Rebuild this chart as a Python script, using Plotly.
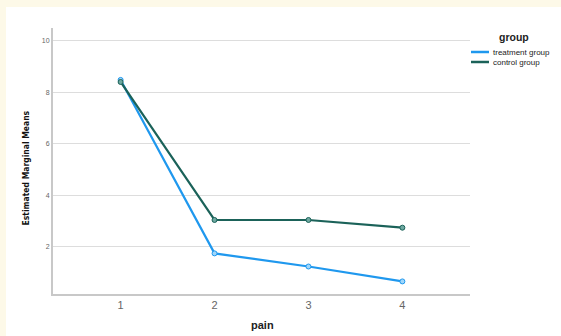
import plotly.graph_objects as go

pain = [1, 2, 3, 4]
treatment = [8.48, 1.73, 1.22, 0.64]
control = [8.40, 3.03, 3.03, 2.73]
y_ticks = [2, 4, 6, 8, 10]
series_names = ["treatment group", "control group"]
series_colors = ["#1f98ee", "#1b6259"]
marker_fills = ["#9fd6fb", "#6ea8a0"]
series_values = [treatment, control]

fig = go.Figure()
for name, vals, col, fill in zip(series_names, series_values, series_colors, marker_fills):
    fig.add_trace(go.Scatter(
        x=pain, y=vals, name=name, mode="lines+markers", showlegend=False,
        line=dict(color=col, width=2.2),
        marker=dict(symbol="circle", size=5, color=fill, line=dict(color=col, width=1)),
    ))

# the page body is given a cream background and a 7px/6px top/left margin,
# so the figure (white) starts where the reference's white panel starts
OFFX, OFFY = 6, 7
FW, FH = 561, 336
L, T, W, H = 53 - OFFX, 28 - OFFY, 417, 266


def px(x):
    return (x - OFFX - L) / W


def py(y):
    return (T + H - (y - OFFY)) / H


shapes = []
annotations = [
    dict(text="<b>group</b>", xref="paper", yref="paper", x=px(514), y=py(37),
         xanchor="center", yanchor="middle", showarrow=False,
         font=dict(size=10.5, color="#222222")),
    dict(text="<b>Estimated Marginal Means</b>", xref="paper", yref="paper", x=px(25.5), y=py(168),
         xanchor="center", yanchor="middle", showarrow=False, textangle=-90,
         font=dict(family="DejaVu Sans Condensed, Liberation Sans Narrow, sans-serif",
                   size=8.5, color="#111111")),
    dict(text="<b>pain</b>", xref="paper", yref="paper", x=px(262), y=py(325),
         xanchor="center", yanchor="middle", showarrow=False,
         font=dict(size=11, color="#222222")),
]
legend_y = [52, 62]
for name, col, ly in zip(series_names, series_colors, legend_y):
    shapes.append(dict(type="line", xref="paper", yref="paper", x0=px(471), x1=px(489), y0=py(ly), y1=py(ly),
                       line=dict(color=col, width=2.5)))
    annotations.append(dict(text=name, xref="paper", yref="paper", x=px(491), y=py(ly),
                            xanchor="left", yanchor="middle", showarrow=False,
                            font=dict(size=8, color="#222222")))

fig.update_layout(
    width=FW, height=FH,
    margin=dict(l=L, r=FW - L - W, t=T, b=FH - T - H, autoexpand=False),
    paper_bgcolor="white",
    plot_bgcolor="white",
    font=dict(family="Liberation Sans, Arial, sans-serif", color="#555555"),
    showlegend=False,
    shapes=shapes,
    annotations=annotations,
    xaxis=dict(
        range=[0.28, 4.72], tickvals=pain, ticktext=[str(p) for p in pain],
        showgrid=False, zeroline=False, showline=True, linecolor="#c8c8c8", linewidth=2,
        ticks="", tickfont=dict(size=11, color="#666666"),
    ),
    yaxis=dict(
        range=[0.15, 10.5], tickvals=y_ticks,
        showgrid=True, gridcolor="#dddddd", gridwidth=1, zeroline=False,
        showline=True, linecolor="#c8c8c8", linewidth=2,
        ticks="", tickfont=dict(size=7, color="#666666"),
    ),
)

fig.write_html(
    "out.html",
    post_script="document.body.style.margin='%dpx 0 0 %dpx';"
                "document.body.style.background='#fdf9e8';"
                "document.body.style.overflow='hidden';" % (OFFY, OFFX),
)
